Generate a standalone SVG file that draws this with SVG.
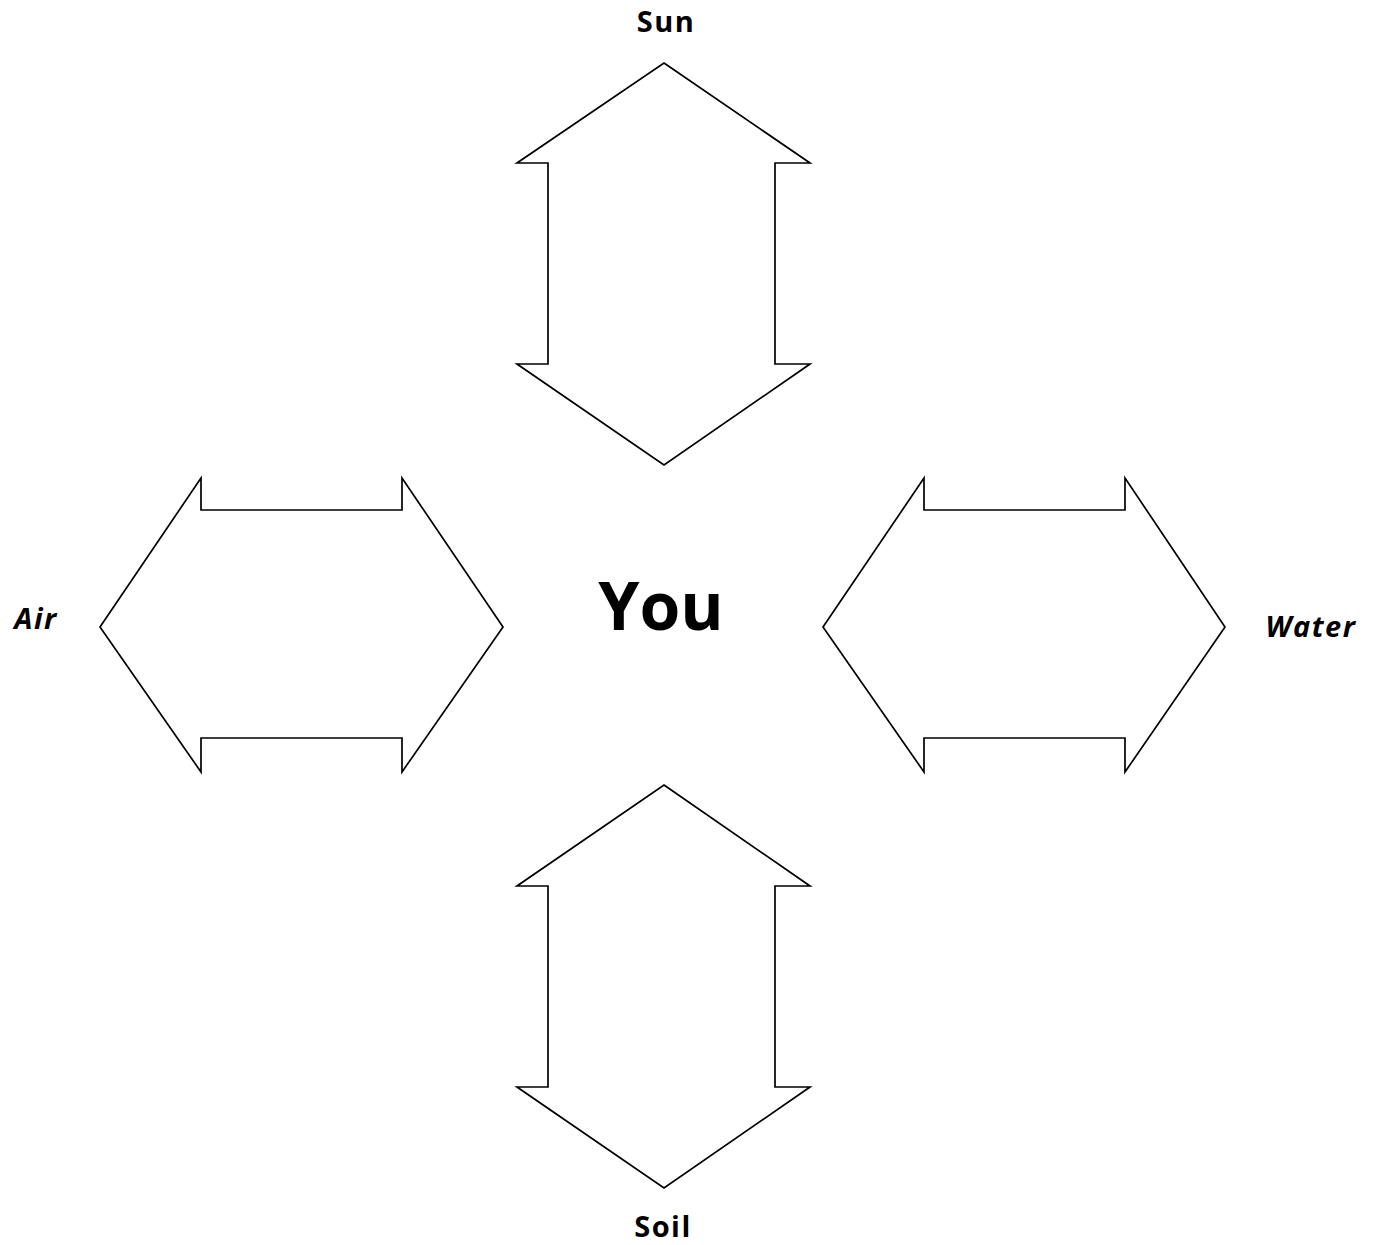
<svg xmlns="http://www.w3.org/2000/svg" width="1380" height="1245" viewBox="0 0 1380 1245">
<style>
.arrow{fill:#fff;stroke:#000;stroke-width:1.7;stroke-linejoin:miter}
.lbl{font-family:"Open Sans","Liberation Sans",sans-serif;font-weight:bold;font-size:29px;letter-spacing:1.5px;fill:#000;text-anchor:middle}
.it{font-style:italic}
.big{font-family:"Open Sans","Liberation Sans",sans-serif;font-weight:bold;font-size:66px;fill:#000;text-anchor:middle}
</style>
<rect width="1380" height="1245" fill="#fff"/>
<g id="sun-arrow"><polygon class="arrow" points="664,63 810,163 775,163 775,364 810,364 664,465 517,364 548,364 548,163 517,163"/></g>
<g id="soil-arrow"><polygon class="arrow" points="664,785 810,886 775,886 775,1087 810,1087 664,1188 517,1087 548,1087 548,886 517,886"/></g>
<g id="air-arrow"><polygon class="arrow" points="100,627 201,478 201,510 402,510 402,478 503,627 402,772 402,738 201,738 201,772"/></g>
<g id="water-arrow"><polygon class="arrow" points="823,627 924,478 924,510 1125,510 1125,478 1225,627 1125,772 1125,738 924,738 924,772"/></g>
<g id="you"><text class="big" x="661" y="630">You</text></g>
<g id="sun"><text class="lbl" x="666" y="32">Sun</text></g>
<g id="soil"><text class="lbl" x="663" y="1237">Soil</text></g>
<g id="air"><text class="lbl it" x="36" y="629">Air</text></g>
<g id="water"><text class="lbl it" x="1311" y="637">Water</text></g>
<g id="connectors"></g>
</svg>
